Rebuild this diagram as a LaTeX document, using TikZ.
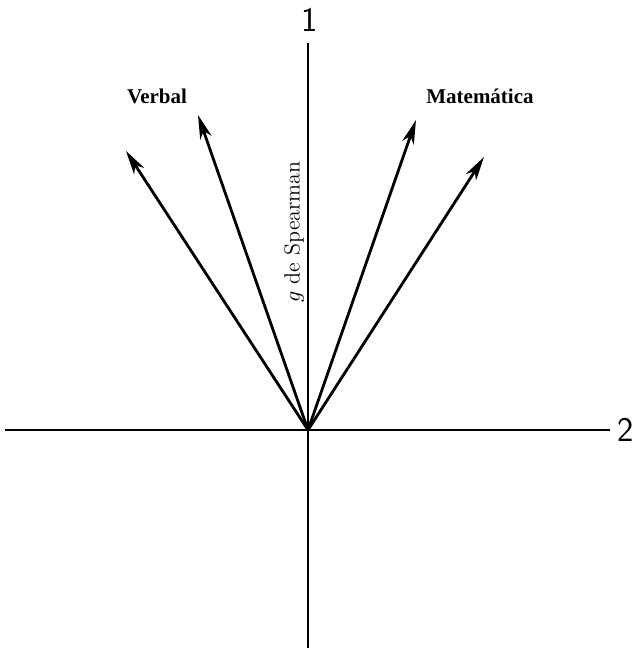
\documentclass[tikz,border=0pt]{standalone}
\usepackage{fontspec}
\newfontfamily\grpfont{Liberation Serif}
\usetikzlibrary{arrows.meta,calc}

\tikzset{
  axe/.style={line width=1pt,color=black},
  vec/.style={line width=1.4pt,color=black,-{Stealth[length=12pt,width=6pt,inset=3.5pt]}},
  axlbl/.style={font=\sffamily\LARGE},
  grplbl/.style={font=\grpfont\bfseries\fontsize{10.5}{12}\selectfont}
}

\begin{document}
\begin{tikzpicture}[x=0.5pt,y=0.5pt]

\useasboundingbox (-308,-218) rectangle (326,430);

% axes
\coordinate (O) at (0,0);
\coordinate (Y1) at (0,387);
\coordinate (Y2) at (0,-218);
\coordinate (X1) at (-303,0);
\coordinate (X2) at (302,0);

% factor vectors
\coordinate (V1) at (-182,279);
\coordinate (V2) at (-110,315);
\coordinate (M1) at (108,310);
\coordinate (M2) at (176,273);

\draw[axe] (Y1) -- (Y2);
\draw[axe] (X1) -- (X2);

\draw[vec] (O) -- (V1);
\draw[vec] (O) -- (V2);
\draw[vec] (O) -- (M1);
\draw[vec] (O) -- (M2);

\node[axlbl] (L1) at (2,410) {1};
\node[axlbl,right=0pt] (L2) at (X2) {2};
\node[grplbl] (Vb) at (-151,334) {Verbal};
\node[grplbl] (Mt) at (172,334) {Matemática};
\node[rotate=90,font=\fontsize{11}{13}\selectfont] (gS) at (-14,198) {$g$ de Spearman};

\end{tikzpicture}
\end{document}
